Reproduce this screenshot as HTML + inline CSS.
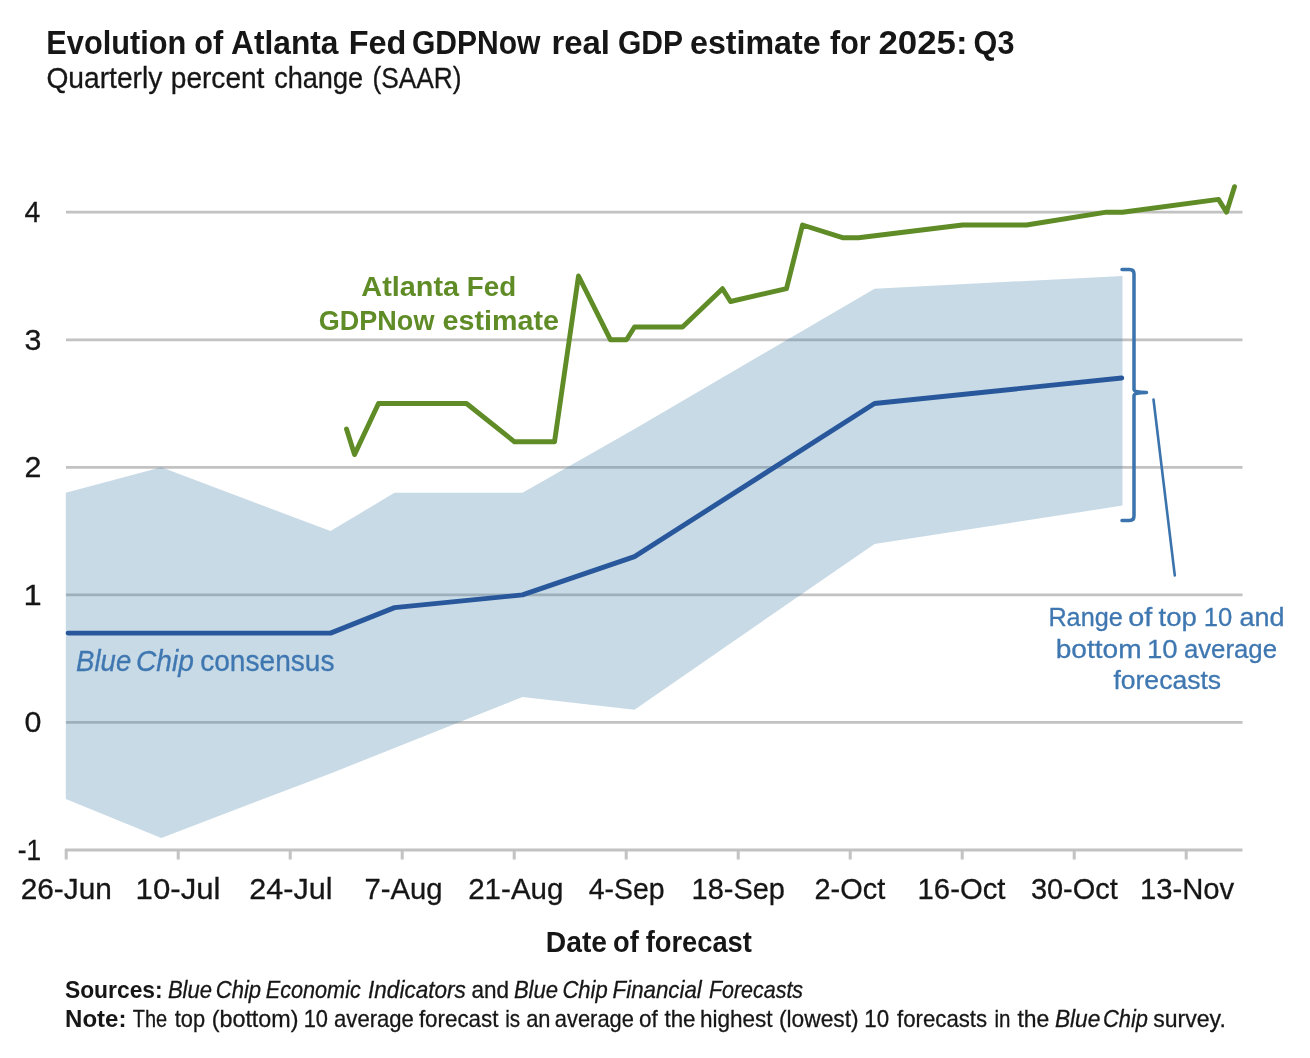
<!DOCTYPE html>
<html lang="en">
<head>
<meta charset="utf-8">
<title>Evolution of Atlanta Fed GDPNow real GDP estimate for 2025: Q3</title>
<style>
html,body{margin:0;padding:0;background:#fff;}
body{width:1310px;height:1058px;overflow:hidden;}
svg{display:block;}
text{font-family:"Liberation Sans",sans-serif;}
.b{font-weight:bold;}
.i{font-style:italic;}
</style>
</head>
<body>
<svg width="1310" height="1058" viewBox="0 0 1310 1058">
<rect width="1310" height="1058" fill="#ffffff"/>
<g>

<g stroke="#c2c2c2" stroke-width="2.8" fill="none">
<line x1="66" x2="1242.5" y1="212.2" y2="212.2"/>
<line x1="66" x2="1242.5" y1="339.8" y2="339.8"/>
<line x1="66" x2="1242.5" y1="467.3" y2="467.3"/>
<line x1="66" x2="1242.5" y1="594.9" y2="594.9"/>
<line x1="66" x2="1242.5" y1="722.4" y2="722.4"/>
</g>
<polygon points="65.8,492.8 161.3,467.3 330.5,531.1 394.5,492.8 522.5,492.8 634.5,429.1 874.5,288.7 1122.5,276.0 1122.5,505.6 874.5,543.9 634.5,709.7 522.5,696.9 394.5,748.0 330.5,773.5 161.3,837.9 65.8,799.0" fill="#4884ac" fill-opacity="0.30"/>
<g stroke="#c2c2c2" stroke-width="2.8" fill="none">
<line x1="64.8" x2="1242.5" y1="850.0" y2="850.0"/>
</g>
<g stroke="#c2c2c2" stroke-width="3.0" fill="none">
<line x1="66.2" x2="66.2" y1="850.0" y2="859.5"/>
<line x1="178.2" x2="178.2" y1="850.0" y2="859.5"/>
<line x1="290.2" x2="290.2" y1="850.0" y2="859.5"/>
<line x1="402.2" x2="402.2" y1="850.0" y2="859.5"/>
<line x1="514.2" x2="514.2" y1="850.0" y2="859.5"/>
<line x1="626.2" x2="626.2" y1="850.0" y2="859.5"/>
<line x1="738.2" x2="738.2" y1="850.0" y2="859.5"/>
<line x1="850.2" x2="850.2" y1="850.0" y2="859.5"/>
<line x1="962.2" x2="962.2" y1="850.0" y2="859.5"/>
<line x1="1074.2" x2="1074.2" y1="850.0" y2="859.5"/>
<line x1="1186.2" x2="1186.2" y1="850.0" y2="859.5"/>
</g>
<polyline points="68.1,633.1 330.5,633.1 394.5,607.6 522.5,594.9 634.5,556.6 874.5,403.5 1121.7,378.0" fill="none" stroke="#28589b" stroke-width="4.9" stroke-linejoin="round" stroke-linecap="round"/>
<polyline points="346.5,429.1 354.5,454.6 378.5,403.5 466.5,403.5 514.5,441.8 554.5,441.8 578.5,276.0 610.5,339.8 626.5,339.8 634.5,327.0 682.5,327.0 722.5,288.7 730.5,301.5 786.5,288.7 802.5,225.0 842.5,237.7 858.5,237.7 962.5,225.0 1026.5,225.0 1106.5,212.2 1122.5,212.2 1218.5,199.4 1226.5,212.2 1234.5,186.7" fill="none" stroke="#5f8c26" stroke-width="4.9" stroke-linejoin="round" stroke-linecap="round"/>
<path d="M1122,269.5 H1129.5 Q1134,269.5 1134,274 V389.5 Q1134,392.5 1146.5,392.5 Q1134,392.5 1134,395.5 V516 Q1134,520.5 1129.5,520.5 H1122" fill="none" stroke="#3b73ad" stroke-width="3.5" stroke-linecap="round" stroke-linejoin="round"/>
<line x1="1153.5" y1="399.5" x2="1174.8" y2="575.5" stroke="#3b73ad" stroke-width="2.6" stroke-linecap="round"/>
<text x="46.3" y="53.5" font-size="33.2" class="b" fill="#161616" textLength="140.1" lengthAdjust="spacingAndGlyphs">Evolution</text>
<text x="194.3" y="53.5" font-size="33.2" class="b" fill="#161616" textLength="29.0" lengthAdjust="spacingAndGlyphs">of</text>
<text x="231.1" y="53.5" font-size="33.2" class="b" fill="#161616" textLength="107.4" lengthAdjust="spacingAndGlyphs">Atlanta</text>
<text x="348.7" y="53.5" font-size="33.2" class="b" fill="#161616" textLength="57.7" lengthAdjust="spacingAndGlyphs">Fed</text>
<text x="412.0" y="53.5" font-size="33.2" class="b" fill="#161616" textLength="128.5" lengthAdjust="spacingAndGlyphs">GDPNow</text>
<text x="551.5" y="53.5" font-size="33.2" class="b" fill="#161616" textLength="58.5" lengthAdjust="spacingAndGlyphs">real</text>
<text x="617.9" y="53.5" font-size="33.2" class="b" fill="#161616" textLength="65.1" lengthAdjust="spacingAndGlyphs">GDP</text>
<text x="690.0" y="53.5" font-size="33.2" class="b" fill="#161616" textLength="130.6" lengthAdjust="spacingAndGlyphs">estimate</text>
<text x="830.1" y="53.5" font-size="33.2" class="b" fill="#161616" textLength="40.5" lengthAdjust="spacingAndGlyphs">for</text>
<text x="878.5" y="53.5" font-size="33.2" class="b" fill="#161616" textLength="89.1" lengthAdjust="spacingAndGlyphs">2025:</text>
<text x="973.6" y="53.5" font-size="33.2" class="b" fill="#161616" textLength="40.8" lengthAdjust="spacingAndGlyphs">Q3</text>
<text x="46.4" y="88.2" font-size="29.4" stroke="#161616" stroke-width="0.3" fill="#161616" textLength="116.0" lengthAdjust="spacingAndGlyphs">Quarterly</text>
<text x="170.8" y="88.2" font-size="29.4" stroke="#161616" stroke-width="0.3" fill="#161616" textLength="93.6" lengthAdjust="spacingAndGlyphs">percent</text>
<text x="274.2" y="88.2" font-size="29.4" stroke="#161616" stroke-width="0.3" fill="#161616" textLength="88.9" lengthAdjust="spacingAndGlyphs">change</text>
<text x="372.4" y="88.2" font-size="29.4" stroke="#161616" stroke-width="0.3" fill="#161616" textLength="89.1" lengthAdjust="spacingAndGlyphs">(SAAR)</text>
<text x="24.6" y="222.0" font-size="29.4" stroke="#161616" stroke-width="0.3" fill="#161616" textLength="15.8" lengthAdjust="spacingAndGlyphs">4</text>
<text x="24.6" y="349.6" font-size="29.4" stroke="#161616" stroke-width="0.3" fill="#161616" textLength="16.9" lengthAdjust="spacingAndGlyphs">3</text>
<text x="24.6" y="477.1" font-size="29.4" stroke="#161616" stroke-width="0.3" fill="#161616" textLength="16.9" lengthAdjust="spacingAndGlyphs">2</text>
<text x="23.4" y="604.7" font-size="29.4" stroke="#161616" stroke-width="0.3" fill="#161616" textLength="18.2" lengthAdjust="spacingAndGlyphs">1</text>
<text x="24.6" y="732.2" font-size="29.4" stroke="#161616" stroke-width="0.3" fill="#161616" textLength="16.9" lengthAdjust="spacingAndGlyphs">0</text>
<text x="17.7" y="859.8" font-size="29.4" stroke="#161616" stroke-width="0.3" fill="#161616" textLength="23.4" lengthAdjust="spacingAndGlyphs">-1</text>
<text x="20.7" y="898.7" font-size="30.3" stroke="#161616" stroke-width="0.3" fill="#161616" textLength="91.2" lengthAdjust="spacingAndGlyphs">26-Jun</text>
<text x="135.6" y="898.7" font-size="30.3" stroke="#161616" stroke-width="0.3" fill="#161616" textLength="84.9" lengthAdjust="spacingAndGlyphs">10-Jul</text>
<text x="249.3" y="898.7" font-size="30.3" stroke="#161616" stroke-width="0.3" fill="#161616" textLength="83.2" lengthAdjust="spacingAndGlyphs">24-Jul</text>
<text x="364.4" y="898.7" font-size="30.3" stroke="#161616" stroke-width="0.3" fill="#161616" textLength="78.1" lengthAdjust="spacingAndGlyphs">7-Aug</text>
<text x="468.2" y="898.7" font-size="30.3" stroke="#161616" stroke-width="0.3" fill="#161616" textLength="95.3" lengthAdjust="spacingAndGlyphs">21-Aug</text>
<text x="588.7" y="898.7" font-size="30.3" stroke="#161616" stroke-width="0.3" fill="#161616" textLength="75.9" lengthAdjust="spacingAndGlyphs">4-Sep</text>
<text x="691.6" y="898.7" font-size="30.3" stroke="#161616" stroke-width="0.3" fill="#161616" textLength="93.3" lengthAdjust="spacingAndGlyphs">18-Sep</text>
<text x="814.5" y="898.7" font-size="30.3" stroke="#161616" stroke-width="0.3" fill="#161616" textLength="70.7" lengthAdjust="spacingAndGlyphs">2-Oct</text>
<text x="917.6" y="898.7" font-size="30.3" stroke="#161616" stroke-width="0.3" fill="#161616" textLength="87.8" lengthAdjust="spacingAndGlyphs">16-Oct</text>
<text x="1030.9" y="898.7" font-size="30.3" stroke="#161616" stroke-width="0.3" fill="#161616" textLength="86.8" lengthAdjust="spacingAndGlyphs">30-Oct</text>
<text x="1139.9" y="898.7" font-size="30.3" stroke="#161616" stroke-width="0.3" fill="#161616" textLength="94.3" lengthAdjust="spacingAndGlyphs">13-Nov</text>
<text x="545.8" y="952.0" font-size="28.8" class="b" fill="#161616" textLength="61.2" lengthAdjust="spacingAndGlyphs">Date</text>
<text x="613.1" y="952.0" font-size="28.8" class="b" fill="#161616" textLength="25.7" lengthAdjust="spacingAndGlyphs">of</text>
<text x="645.7" y="952.0" font-size="28.8" class="b" fill="#161616" textLength="106.2" lengthAdjust="spacingAndGlyphs">forecast</text>
<text x="361.3" y="296.4" font-size="28" class="b" fill="#5f8c26" textLength="97.8" lengthAdjust="spacingAndGlyphs">Atlanta</text>
<text x="466.8" y="296.4" font-size="28" class="b" fill="#5f8c26" textLength="49.3" lengthAdjust="spacingAndGlyphs">Fed</text>
<text x="318.8" y="329.8" font-size="28" class="b" fill="#5f8c26" textLength="115.6" lengthAdjust="spacingAndGlyphs">GDPNow</text>
<text x="442.6" y="329.8" font-size="28" class="b" fill="#5f8c26" textLength="116.3" lengthAdjust="spacingAndGlyphs">estimate</text>
<text x="76.1" y="671.0" font-size="29.2" class="i" stroke="#3f77b1" stroke-width="0.3" fill="#3f77b1" textLength="55.1" lengthAdjust="spacingAndGlyphs">Blue</text>
<text x="136.0" y="671.0" font-size="29.2" class="i" stroke="#3f77b1" stroke-width="0.3" fill="#3f77b1" textLength="57.8" lengthAdjust="spacingAndGlyphs">Chip</text>
<text x="200.2" y="671.0" font-size="29.2" stroke="#3f77b1" stroke-width="0.3" fill="#3f77b1" textLength="134.3" lengthAdjust="spacingAndGlyphs">consensus</text>
<text x="1048.4" y="626.3" font-size="26.6" stroke="#3f77b1" stroke-width="0.3" fill="#3f77b1" textLength="74.4" lengthAdjust="spacingAndGlyphs">Range</text>
<text x="1128.2" y="626.3" font-size="26.6" stroke="#3f77b1" stroke-width="0.3" fill="#3f77b1" textLength="24.1" lengthAdjust="spacingAndGlyphs">of</text>
<text x="1158.6" y="626.3" font-size="26.6" stroke="#3f77b1" stroke-width="0.3" fill="#3f77b1" textLength="38.3" lengthAdjust="spacingAndGlyphs">top</text>
<text x="1203.7" y="626.3" font-size="26.6" stroke="#3f77b1" stroke-width="0.3" fill="#3f77b1" textLength="28.5" lengthAdjust="spacingAndGlyphs">10</text>
<text x="1239.6" y="626.3" font-size="26.6" stroke="#3f77b1" stroke-width="0.3" fill="#3f77b1" textLength="45.0" lengthAdjust="spacingAndGlyphs">and</text>
<text x="1055.7" y="657.5" font-size="26.6" stroke="#3f77b1" stroke-width="0.3" fill="#3f77b1" textLength="85.9" lengthAdjust="spacingAndGlyphs">bottom</text>
<text x="1147.0" y="657.5" font-size="26.6" stroke="#3f77b1" stroke-width="0.3" fill="#3f77b1" textLength="30.7" lengthAdjust="spacingAndGlyphs">10</text>
<text x="1183.9" y="657.5" font-size="26.6" stroke="#3f77b1" stroke-width="0.3" fill="#3f77b1" textLength="93.1" lengthAdjust="spacingAndGlyphs">average</text>
<text x="1113.4" y="689.2" font-size="26.6" stroke="#3f77b1" stroke-width="0.3" fill="#3f77b1" textLength="107.7" lengthAdjust="spacingAndGlyphs">forecasts</text>
<text x="64.9" y="997.9" font-size="23.8" class="b" fill="#161616" textLength="97.8" lengthAdjust="spacingAndGlyphs">Sources:</text>
<text x="167.9" y="997.9" font-size="23.8" class="i" stroke="#161616" stroke-width="0.3" fill="#161616" textLength="44.1" lengthAdjust="spacingAndGlyphs">Blue</text>
<text x="215.8" y="997.9" font-size="23.8" class="i" stroke="#161616" stroke-width="0.3" fill="#161616" textLength="45.3" lengthAdjust="spacingAndGlyphs">Chip</text>
<text x="265.7" y="997.9" font-size="23.8" class="i" stroke="#161616" stroke-width="0.3" fill="#161616" textLength="95.1" lengthAdjust="spacingAndGlyphs">Economic</text>
<text x="368.1" y="997.9" font-size="23.8" class="i" stroke="#161616" stroke-width="0.3" fill="#161616" textLength="97.6" lengthAdjust="spacingAndGlyphs">Indicators</text>
<text x="471.4" y="997.9" font-size="23.8" stroke="#161616" stroke-width="0.3" fill="#161616" textLength="37.6" lengthAdjust="spacingAndGlyphs">and</text>
<text x="513.9" y="997.9" font-size="23.8" class="i" stroke="#161616" stroke-width="0.3" fill="#161616" textLength="44.2" lengthAdjust="spacingAndGlyphs">Blue</text>
<text x="562.4" y="997.9" font-size="23.8" class="i" stroke="#161616" stroke-width="0.3" fill="#161616" textLength="45.3" lengthAdjust="spacingAndGlyphs">Chip</text>
<text x="612.6" y="997.9" font-size="23.8" class="i" stroke="#161616" stroke-width="0.3" fill="#161616" textLength="89.2" lengthAdjust="spacingAndGlyphs">Financial</text>
<text x="708.9" y="997.9" font-size="23.8" class="i" stroke="#161616" stroke-width="0.3" fill="#161616" textLength="94.2" lengthAdjust="spacingAndGlyphs">Forecasts</text>
<text x="65.1" y="1026.8" font-size="23.8" class="b" fill="#161616" textLength="61.4" lengthAdjust="spacingAndGlyphs">Note:</text>
<text x="132.8" y="1026.8" font-size="23.8" stroke="#161616" stroke-width="0.3" fill="#161616" textLength="34.4" lengthAdjust="spacingAndGlyphs">The</text>
<text x="174.8" y="1026.8" font-size="23.8" stroke="#161616" stroke-width="0.3" fill="#161616" textLength="30.3" lengthAdjust="spacingAndGlyphs">top</text>
<text x="211.7" y="1026.8" font-size="23.8" stroke="#161616" stroke-width="0.3" fill="#161616" textLength="86.8" lengthAdjust="spacingAndGlyphs">(bottom)</text>
<text x="303.7" y="1026.8" font-size="23.8" stroke="#161616" stroke-width="0.3" fill="#161616" textLength="24.3" lengthAdjust="spacingAndGlyphs">10</text>
<text x="334.1" y="1026.8" font-size="23.8" stroke="#161616" stroke-width="0.3" fill="#161616" textLength="79.7" lengthAdjust="spacingAndGlyphs">average</text>
<text x="418.9" y="1026.8" font-size="23.8" stroke="#161616" stroke-width="0.3" fill="#161616" textLength="79.5" lengthAdjust="spacingAndGlyphs">forecast</text>
<text x="505.2" y="1026.8" font-size="23.8" stroke="#161616" stroke-width="0.3" fill="#161616" textLength="14.9" lengthAdjust="spacingAndGlyphs">is</text>
<text x="526.2" y="1026.8" font-size="23.8" stroke="#161616" stroke-width="0.3" fill="#161616" textLength="24.3" lengthAdjust="spacingAndGlyphs">an</text>
<text x="554.8" y="1026.8" font-size="23.8" stroke="#161616" stroke-width="0.3" fill="#161616" textLength="79.1" lengthAdjust="spacingAndGlyphs">average</text>
<text x="639.1" y="1026.8" font-size="23.8" stroke="#161616" stroke-width="0.3" fill="#161616" textLength="18.7" lengthAdjust="spacingAndGlyphs">of</text>
<text x="664.5" y="1026.8" font-size="23.8" stroke="#161616" stroke-width="0.3" fill="#161616" textLength="31.0" lengthAdjust="spacingAndGlyphs">the</text>
<text x="699.9" y="1026.8" font-size="23.8" stroke="#161616" stroke-width="0.3" fill="#161616" textLength="72.7" lengthAdjust="spacingAndGlyphs">highest</text>
<text x="779.0" y="1026.8" font-size="23.8" stroke="#161616" stroke-width="0.3" fill="#161616" textLength="79.6" lengthAdjust="spacingAndGlyphs">(lowest)</text>
<text x="864.3" y="1026.8" font-size="23.8" stroke="#161616" stroke-width="0.3" fill="#161616" textLength="24.8" lengthAdjust="spacingAndGlyphs">10</text>
<text x="897.1" y="1026.8" font-size="23.8" stroke="#161616" stroke-width="0.3" fill="#161616" textLength="90.0" lengthAdjust="spacingAndGlyphs">forecasts</text>
<text x="994.5" y="1026.8" font-size="23.8" stroke="#161616" stroke-width="0.3" fill="#161616" textLength="16.0" lengthAdjust="spacingAndGlyphs">in</text>
<text x="1017.4" y="1026.8" font-size="23.8" stroke="#161616" stroke-width="0.3" fill="#161616" textLength="31.9" lengthAdjust="spacingAndGlyphs">the</text>
<text x="1054.9" y="1026.8" font-size="23.8" class="i" stroke="#161616" stroke-width="0.3" fill="#161616" textLength="45.5" lengthAdjust="spacingAndGlyphs">Blue</text>
<text x="1103.1" y="1026.8" font-size="23.8" class="i" stroke="#161616" stroke-width="0.3" fill="#161616" textLength="44.9" lengthAdjust="spacingAndGlyphs">Chip</text>
<text x="1153.3" y="1026.8" font-size="23.8" stroke="#161616" stroke-width="0.3" fill="#161616" textLength="72.5" lengthAdjust="spacingAndGlyphs">survey.</text>
</g>
</svg>
</body>
</html>
